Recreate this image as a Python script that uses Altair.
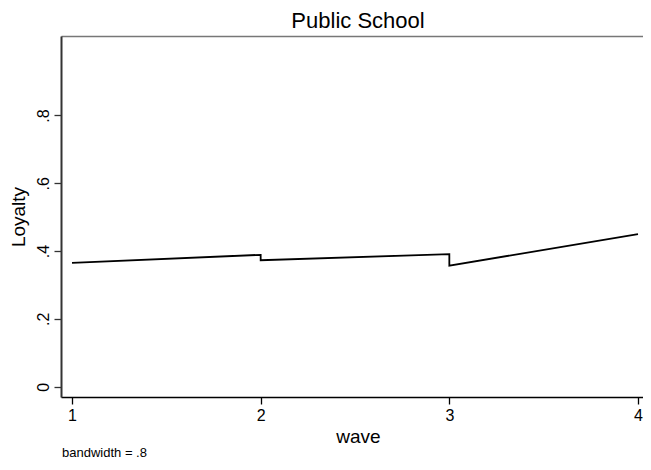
import altair as alt
import pandas as pd

# lowess smoothed Loyalty by wave
wave = [1, 2, 2, 3, 3, 4]
loyalty = [0.365, 0.389, 0.373, 0.391, 0.357, 0.450]
seq = [0, 1, 2, 3, 4, 5]

x_ticks = [1, 2, 3, 4]
y_ticks = [0, 0.2, 0.4, 0.6, 0.8]

df = pd.DataFrame({"wave": wave, "loyalty": loyalty, "seq": seq})

FONT = "Liberation Sans"

xscale = alt.Scale(domain=[0.9417, 4.0265], nice=False, zero=False)
yscale = alt.Scale(domain=[-0.0304, 1.0345], nice=False, zero=False)

line = alt.Chart(df).mark_line(color="black", strokeWidth=1.8).encode(
    x=alt.X("wave:Q", scale=xscale,
            axis=alt.Axis(title="wave", values=x_ticks, format="d", orient="bottom",
                          grid=False, domainColor="black", domainWidth=1.5,
                          tickColor="black", tickWidth=1.3, tickSize=7,
                          labelFont=FONT, labelFontSize=16, labelColor="black",
                          labelPadding=3, labelFlush=False,
                          titleFont=FONT, titleFontSize=19, titleFontWeight="normal",
                          titleColor="black", titleX=297, titleY=45,
                          titleBaseline="alphabetic")),
    y=alt.Y("loyalty:Q", scale=yscale,
            axis=alt.Axis(title="Loyalty", values=y_ticks,
                          labelExpr="datum.value == 0 ? '0' : replace(format(datum.value, '.1f'), '0.', '.')",
                          grid=False, domainColor="#333333", domainWidth=2,
                          tickColor="#333333", tickWidth=1.3, tickSize=7,
                          labelAngle=270, labelAlign="center", labelBaseline="bottom",
                          labelFont=FONT, labelFontSize=16, labelColor="black",
                          labelPadding=3,
                          titleFont=FONT, titleFontSize=19, titleFontWeight="normal",
                          titleColor="black", titleX=-37, titleBaseline="alphabetic")),
    order="seq:Q",
)

top_border = alt.Chart(df).mark_point(opacity=0).encode(
    x=alt.X("wave:Q", scale=xscale,
            axis=alt.Axis(orient="top", title=None, labels=False, ticks=False,
                          grid=False, domainColor="#777777", domainWidth=1.5)),
    y=alt.Y("loyalty:Q", scale=yscale),
)

note = alt.Chart(pd.DataFrame({"t": ["bandwidth = .8"]})).mark_text(
    font=FONT, fontSize=13, color="black", align="left", baseline="alphabetic"
).encode(text="t:N", x=alt.value(1), y=alt.value(361 + 60))

chart = alt.layer(line, top_border, note).resolve_scale(x="independent").properties(
    width=582, height=361,
    title=alt.Title("Public School", font=FONT, fontSize=22, fontWeight="normal",
                    color="black", anchor="middle", dx=6, offset=3),
    autosize=alt.AutoSizeParams(type="none"),
    padding={"left": 53, "top": 28, "right": 0, "bottom": 64},
).configure_view(stroke=None).configure(background="white")

chart.save("out.html", embed_options={"renderer": "svg", "actions": False})
